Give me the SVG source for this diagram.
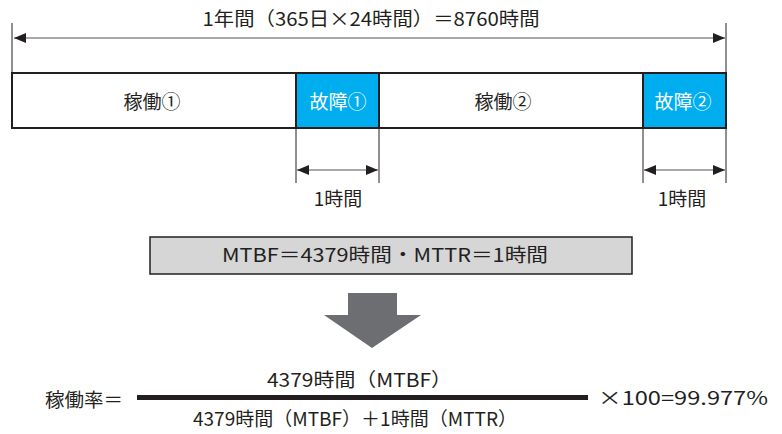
<svg xmlns="http://www.w3.org/2000/svg" width="782" height="434" viewBox="0 0 782 434">
<defs>
<marker id="ah" markerWidth="12" markerHeight="10" refX="12" refY="5" orient="auto-start-reverse" markerUnits="userSpaceOnUse">
<path d="M0,0 L12,5 L0,10 Z" fill="#231f20"/>
</marker>
<style>
text{font-family:"Noto Sans CJK JP","Noto Sans",sans-serif;fill:#231f20;text-anchor:middle}
.t{font-size:19px}
.w{fill:#fff}
.thin{stroke:#231f20;stroke-width:1;fill:none}
.dim{stroke:#555;stroke-width:1.2;fill:none}
.seg{stroke:#231f20;stroke-width:2}
</style>
</defs>
<rect width="782" height="434" fill="#fff"/>
<g id="title"><text class="t" x="371" y="26" textLength="337" lengthAdjust="spacingAndGlyphs">1年間（365日×24時間）＝8760時間</text></g>
<g id="bar">
<rect id="op1" class="seg" x="12" y="73" width="284" height="55" fill="#fff"/>
<rect id="f1" class="seg" x="296" y="73" width="83" height="55" fill="#00aeef"/>
<rect id="op2" class="seg" x="379" y="73" width="264" height="55" fill="#fff"/>
<rect id="f2" class="seg" x="643" y="73" width="83" height="55" fill="#00aeef"/>
<text class="t" x="152" y="109">稼働①</text>
<text class="t w" x="338" y="109">故障①</text>
<text class="t" x="503" y="109">稼働②</text>
<text class="t w" x="683" y="109">故障②</text>
</g>
<g id="lbl1"><text class="t" x="338" y="206">1時間</text></g>
<g id="lbl2"><text class="t" x="682" y="206">1時間</text></g>
<g id="mtbf">
<rect x="150" y="237" width="482" height="37" fill="#d6d6d6" stroke="#231f20" stroke-width="1.5"/>
<text class="t" x="385" y="262" textLength="326" lengthAdjust="spacingAndGlyphs">MTBF＝4379時間・MTTR＝1時間</text>
</g>
<g id="downarrow"><path d="M348,293 H397 V315 H421 L372,348 L324,315 H348 Z" fill="#6d6e71"/></g>
<g id="formula">
<text class="t" x="84" y="407" textLength="78" lengthAdjust="spacingAndGlyphs">稼働率＝</text>
<text class="t" x="359.5" y="387" textLength="185" lengthAdjust="spacingAndGlyphs">4379時間（MTBF）</text>
<rect x="137" y="395" width="451" height="5" fill="#231f20"/>
<text class="t" x="355" y="426" textLength="324" lengthAdjust="spacingAndGlyphs">4379時間（MTBF）＋1時間（MTTR）</text>
<text class="t" x="683" y="405" textLength="170" lengthAdjust="spacingAndGlyphs">×100=99.977%</text>
</g>
<g id="connectors">
<line class="thin" x1="12" y1="23" x2="12" y2="73"/>
<line class="thin" x1="726" y1="23" x2="726" y2="73"/>
<line class="dim" x1="14" y1="38" x2="725" y2="38" marker-start="url(#ah)" marker-end="url(#ah)"/>
<line class="thin" x1="296" y1="128" x2="296" y2="183"/>
<line class="thin" x1="379" y1="128" x2="379" y2="183"/>
<line class="dim" x1="297" y1="170" x2="378" y2="170" marker-start="url(#ah)" marker-end="url(#ah)"/>
<line class="thin" x1="643" y1="128" x2="643" y2="183"/>
<line class="thin" x1="726" y1="128" x2="726" y2="183"/>
<line class="dim" x1="644" y1="170" x2="725" y2="170" marker-start="url(#ah)" marker-end="url(#ah)"/>
</g>
</svg>
